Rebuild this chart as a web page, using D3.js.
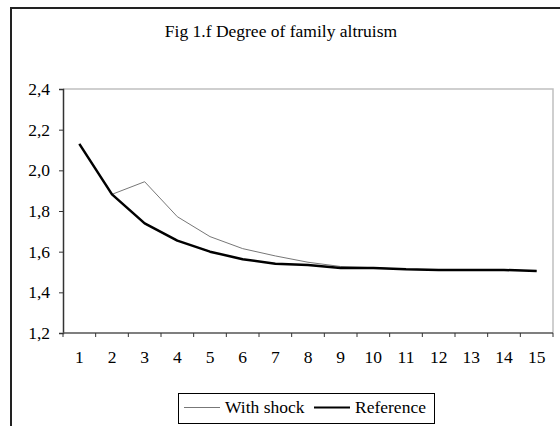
<!DOCTYPE html>
<html>
<head>
<meta charset="utf-8">
<script src="https://cdn.jsdelivr.net/npm/d3@7"></script>
<style>
  body { margin: 0; background: #fff; }
  svg { display: block; font-family: "Liberation Serif", "Times New Roman", serif; }
</style>
</head>
<body>
<script>
// data
let periods = [1, 2, 3, 4, 5, 6, 7, 8, 9, 10, 11, 12, 13, 14, 15];
let withShock = [2.13, 1.882, 1.944, 1.772, 1.674, 1.615, 1.579, 1.548, 1.527, 1.521, 1.513, 1.51, 1.51, 1.511, 1.505];
let reference = [2.13, 1.882, 1.739, 1.654, 1.600, 1.563, 1.541, 1.534, 1.520, 1.520, 1.513, 1.510, 1.510, 1.510, 1.505];
let yTicks = [1.2, 1.4, 1.6, 1.8, 2.0, 2.2, 2.4];
let legendNames = ["With shock", "Reference"];

let w = 560;
let h = 426;
let plotLeft = 63, plotRight = 553, plotTop = 89, plotBottom = 333;

let svg = d3.select("body")
    .append("svg")
    .attr("width", w)
    .attr("height", h);

// outer chart frame (clipped at right and bottom like the original)
svg.append("rect")
    .attr("x", 11).attr("y", 8)
    .attr("width", 600).attr("height", 500)
    .attr("fill", "none")
    .attr("stroke", "#222")
    .attr("stroke-width", 2);

svg.append("text")
    .attr("x", 281).attr("y", 37)
    .attr("text-anchor", "middle")
    .attr("font-size", "17.5px")
    .text("Fig 1.f Degree of family altruism");

let xScale = d3.scaleBand()
    .domain(periods)
    .range([plotLeft, plotRight])
    .paddingInner(0).paddingOuter(0);

let yScale = d3.scaleLinear()
    .domain([1.2, 2.4])
    .range([plotBottom, plotTop]);

// plot area border (top and right in light grey)
svg.append("path")
    .attr("d", "M" + plotLeft + "," + plotTop + "H" + plotRight + "V" + plotBottom)
    .attr("fill", "none")
    .attr("stroke", "#c0c0c0")
    .attr("stroke-width", 1.5);

// y axis
let yAxis = d3.axisLeft(yScale)
    .tickValues(yTicks)
    .tickSize(4)
    .tickPadding(9)
    .tickFormat(d => d3.format(".1f")(d).replace(".", ","));

let gy = svg.append("g")
    .attr("transform", "translate(" + plotLeft + ",0)")
    .call(yAxis);
gy.select(".domain").attr("stroke", "#333").attr("stroke-width", 1.5);
gy.selectAll(".tick line").attr("stroke", "#333");
gy.selectAll(".tick text")
    .attr("font-size", "17.5px")
    .attr("font-family", "Liberation Serif, serif")
    .attr("fill", "#000");

// x axis: ticks between categories
let gx = svg.append("g")
    .attr("transform", "translate(0," + plotBottom + ")");
gx.append("line")
    .attr("x1", plotLeft).attr("x2", plotRight)
    .attr("stroke", "#555").attr("stroke-width", 1.5);
gx.selectAll("line.tk")
    .data(periods.concat([null]))
    .enter()
    .append("line")
    .attr("class", "tk")
    .attr("x1", (d, i) => plotLeft + i * xScale.step())
    .attr("x2", (d, i) => plotLeft + i * xScale.step())
    .attr("y1", 0).attr("y2", 4)
    .attr("stroke", "#333");
gx.selectAll("text")
    .data(periods)
    .enter()
    .append("text")
    .attr("x", d => xScale(d) + xScale.bandwidth() / 2)
    .attr("y", 30)
    .attr("text-anchor", "middle")
    .attr("font-size", "17.5px")
    .text(d => d);

let line = d3.line()
    .x((d, i) => xScale(periods[i]) + xScale.bandwidth() / 2)
    .y(d => yScale(d));

svg.append("path")
    .datum(withShock)
    .attr("d", line)
    .attr("fill", "none")
    .attr("stroke", "#777")
    .attr("stroke-width", 1);

svg.append("path")
    .datum(reference)
    .attr("d", line)
    .attr("fill", "none")
    .attr("stroke", "#000")
    .attr("stroke-width", 2.5)
    .attr("stroke-linejoin", "round");

// legend
let lg = svg.append("g");
lg.append("rect")
    .attr("x", 178.5).attr("y", 393.5)
    .attr("width", 256).attr("height", 30)
    .attr("fill", "#fff")
    .attr("stroke", "#000")
    .attr("stroke-width", 1);

let legendItems = [
    { name: legendNames[0], x: 184, color: "#777", sw: 1 },
    { name: legendNames[1], x: 314, color: "#000", sw: 2 }
];
legendItems.forEach(function(d) {
    lg.append("line")
        .attr("x1", d.x).attr("x2", d.x + 36)
        .attr("y1", 407.5).attr("y2", 407.5)
        .attr("stroke", d.color)
        .attr("stroke-width", d.sw);
    lg.append("text")
        .attr("x", d.x + 41).attr("y", 413)
        .attr("font-size", "17.5px")
        .text(d.name);
});
</script>
</body>
</html>
